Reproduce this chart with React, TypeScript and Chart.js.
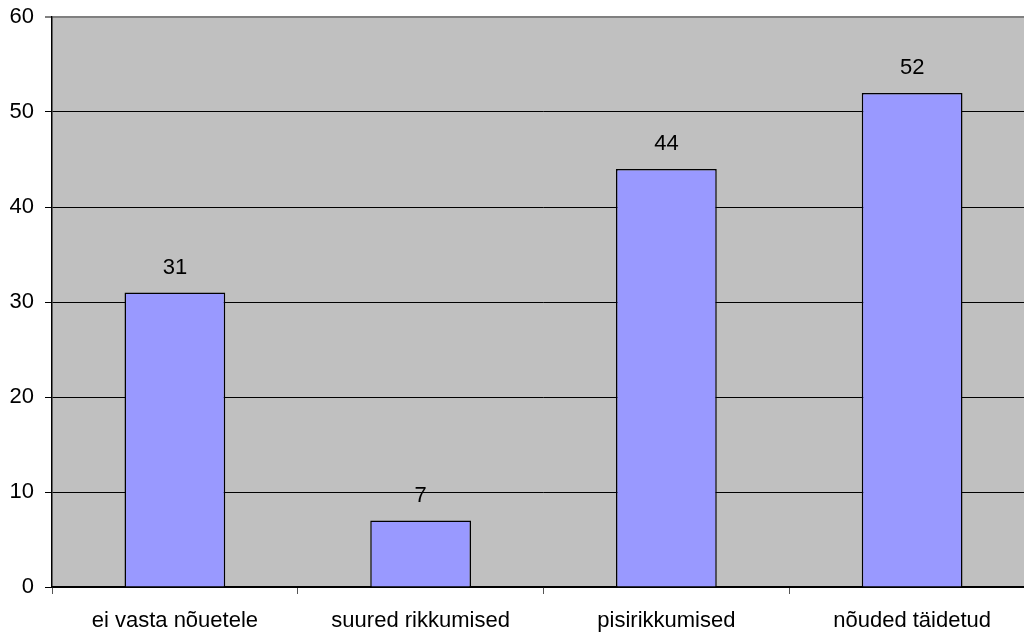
import React, { useEffect, useRef } from "react";
import { Chart, registerables } from "chart.js";

Chart.register(...registerables);

const categories = ["ei vasta nõuetele", "suured rikkumised", "pisirikkumised", "nõuded täidetud"];
const values = [31, 7, 44, 52];
const yMin = 0;
const yMax = 60;
const yStep = 10;

const FONT = "'Liberation Sans', Arial, sans-serif";

const bgPlugin = {
  id: "plotBg",
  beforeDraw(chart: any) {
    const { ctx, chartArea } = chart;
    ctx.save();
    ctx.fillStyle = "#C0C0C0";
    ctx.fillRect(chartArea.left, chartArea.top, chartArea.right - chartArea.left, chartArea.bottom - chartArea.top);
    ctx.restore();
  },
};

const labelPlugin = {
  id: "valueLabels",
  afterDatasetsDraw(chart: any) {
    const { ctx } = chart;
    const meta = chart.getDatasetMeta(0);
    ctx.save();
    ctx.font = `22px ${FONT}`;
    ctx.fillStyle = "#000";
    ctx.textAlign = "center";
    ctx.textBaseline = "middle";
    meta.data.forEach((bar: any, i: number) => {
      ctx.fillText(String(chart.data.datasets[0].data[i]), bar.x, bar.y - 25);
    });
    ctx.restore();
  },
};

export default function App() {
  const ref = useRef<HTMLCanvasElement | null>(null);
  useEffect(() => {
    if (!ref.current) return;
    const chart = new Chart(ref.current, {
      type: "bar",
      data: {
        labels: categories,
        datasets: [
          {
            data: values,
            backgroundColor: "#9999FF",
            borderColor: "#000000",
            borderWidth: 1.5,
            categoryPercentage: 1,
            barPercentage: 0.41,
          },
        ],
      },
      options: {
        responsive: false,
        animation: false,
        devicePixelRatio: 1,
        layout: { padding: { top: 17, right: 5, left: 0, bottom: 0 } },
        plugins: { legend: { display: false }, tooltip: { enabled: false } },
        scales: {
          x: {
            offset: true,
            grid: {
              display: true,
              offset: true,
              drawOnChartArea: false,
              drawTicks: true,
              tickLength: 7,
              tickColor: "#555555",
            },
            border: { display: true, color: "#000000", width: 1.5 },
            ticks: { color: "#000", font: { family: FONT, size: 22 }, padding: 14, maxRotation: 0, autoSkip: false },
            afterFit(scale: any) {
              scale.height = 46;
              scale.paddingLeft = 0;
              scale.paddingRight = 0;
            },
          },
          y: {
            min: yMin,
            max: yMax,
            ticks: { stepSize: yStep, color: "#000", font: { family: FONT, size: 22 }, padding: 11 },
            grid: {
              color: (c: any) => (c.tick && c.tick.value === yMax ? "#808080" : "#000000"),
              lineWidth: (c: any) => (c.tick && c.tick.value === yMax ? 2 : 1),
              tickColor: (c: any) => (c.tick && c.tick.value === yMax ? "#808080" : "#000000"),
              tickLength: 7,
            },
            border: { display: true, color: "#000000", width: 1.5 },
            afterFit(scale: any) {
              scale.width = 52;
              scale.paddingTop = 0;
              scale.paddingBottom = 0;
            },
          },
        },
      },
      plugins: [bgPlugin, labelPlugin],
    });
    return () => chart.destroy();
  }, []);
  return (
    <div style={{ position: "fixed", left: 0, top: 0, width: 1040, height: 633, background: "#fff" }}>
      <canvas ref={ref} width={1040} height={633} style={{ width: 1040, height: 633, display: "block" }} />
    </div>
  );
}
